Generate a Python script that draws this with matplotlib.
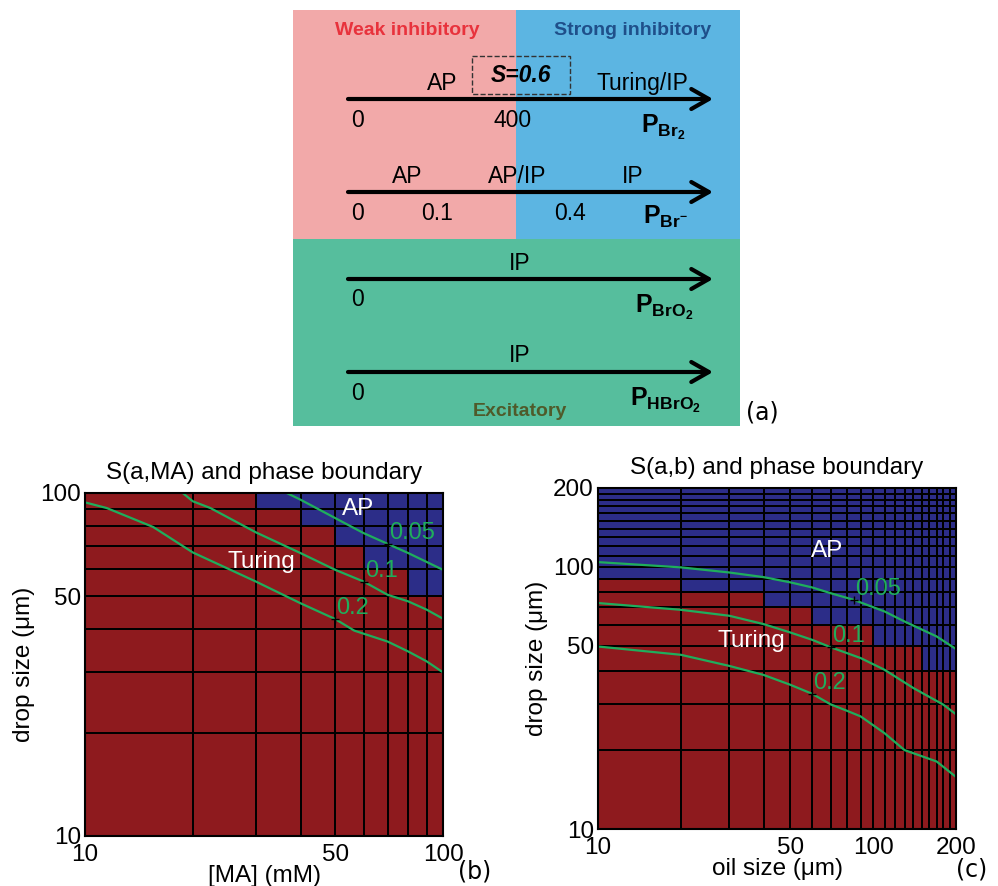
import numpy as np
import matplotlib.pyplot as plt
from matplotlib.colors import ListedColormap
from matplotlib.patches import Rectangle

plt.rcParams['font.family'] = ['Liberation Sans', 'DejaVu Sans']
plt.rcParams['mathtext.fontset'] = 'custom'
plt.rcParams['mathtext.rm'] = 'Liberation Sans'
plt.rcParams['mathtext.bf'] = 'Liberation Sans:bold'
plt.rcParams['mathtext.it'] = 'Liberation Sans:italic'

# ---- panel (a) schematic labels
a_names = [r'$\mathbf{P}_{\mathbf{Br}_{\mathbf{2}}}$', r'$\mathbf{P}_{\mathbf{Br}^{\mathbf{-}}}$',
           r'$\mathbf{P}_{\mathbf{BrO}_{\mathbf{2}}}$', r'$\mathbf{P}_{\mathbf{HBrO}_{\mathbf{2}}}$']
a_phases = [['AP', 'Turing/IP'], ['AP', 'AP/IP', 'IP'], ['IP'], ['IP']]
a_ticks = [['0', '400'], ['0', '0.1', '0.4'], ['0'], ['0']]

# ---- panel (b): S(a, MA)
ma_b = np.arange(10, 101, 10)
drop_b = np.arange(10, 101, 10)
# lowest [MA] where the cell turns AP, keyed by the cell's lower drop size
ap_from_b = {50: 80, 60: 60, 70: 50, 80: 40, 90: 30}

lvl = ['0.05', '0.1', '0.2']
b_x005 = [36.6, 40, 50, 60, 70, 80, 100]
b_y005 = [100, 95.6, 84.5, 76.4, 71.1, 66.8, 59.7]
b_x01 = [18.75, 20, 22.4, 30, 40, 50, 60, 70, 80, 90, 100]
b_y01 = [100, 94.6, 90.4, 76.8, 66.8, 59.7, 55.2, 50.5, 48.3, 45.7, 43.0]
b_x02 = [10, 11.5, 15.5, 20, 30, 40, 50, 56.5, 70, 80, 90, 100]
b_y02 = [93.9, 90.4, 79.6, 67.1, 55.2, 47.7, 42.9, 39.7, 36.9, 34.5, 32.3, 30.0]
b_lab_x = [70, 60, 50]
b_lab_y = [71.1, 55.2, 42.9]

# ---- panel (c): S(a, b)
oil_c = np.arange(10, 201, 10)
drop_c = np.arange(10, 201, 10)
# rows above 80 um are AP everywhere
ap_from_c = {40: 150, 50: 100, 60: 60, 70: 40, 80: 20}

c_x005 = [10, 20, 30, 40, 50, 60, 70, 84.9, 110, 130, 170, 200]
c_y005 = [104.3, 99.6, 95.2, 91.4, 87.3, 83.5, 79.4, 74.9, 67.6, 61.9, 54.3, 48.6]
c_x01 = [10, 20, 30, 40, 50, 60, 70, 90, 110, 140, 180, 200]
c_y01 = [72.8, 68.6, 65.1, 60.5, 56.2, 52.7, 49.4, 44.9, 40.5, 34.5, 29.8, 27.4]
c_x02 = [10, 20, 30, 40, 50, 60, 70, 80, 90, 110, 130, 170, 200]
c_y02 = [49.7, 46.2, 41.9, 38.7, 35.5, 32.8, 29.9, 28.3, 26.9, 23.2, 20.0, 18.1, 15.8]
c_lab_x = [84.9, 70, 60]
c_lab_y = [74.9, 49.4, 32.8]

red = '#8e1a1e'
navy = '#2c2d88'
green = '#1fae5c'
fs = 17.5

fig = plt.figure(figsize=(9.98, 8.86), dpi=100)

# ---------------- (a) drawn in pixel coordinates
ax = fig.add_axes([0, 0, 1, 1])
ax.set_xlim(0, 998)
ax.set_ylim(886, 0)
ax.axis('off')
ax.add_patch(Rectangle((293, 10), 223, 229, color='#f2a9a9', lw=0))
ax.add_patch(Rectangle((516, 10), 224, 229, color='#5cb5e2', lw=0))
ax.add_patch(Rectangle((293, 239), 447, 187, color='#56be9d', lw=0))
ax.text(407, 30, 'Weak inhibitory', color='#e8323c', fontsize=14, weight='bold', ha='center', va='center')
ax.text(633, 30, 'Strong inhibitory', color='#1f4f8a', fontsize=14, weight='bold', ha='center', va='center')
ax.text(520, 411, 'Excitatory', color='#4f5a2a', fontsize=14, weight='bold', ha='center', va='center')
ax.add_patch(Rectangle((472, 56), 98, 38, fill=False, ls='--', lw=1, ec='#333333'))
ax.text(521, 75, 'S=0.6', fontsize=16.5, weight='bold', style='italic', ha='center', va='center')

arrow_y = [99, 192, 279, 372]
phase_x = [[442, 642], [407, 517, 633], [520], [520]]
tick_x = [[358, 513], [358, 437, 570], [358], [358]]
name_pos = [(641, 133), (643, 224), (635, 313), (630, 406)]
for k in range(4):
    y = arrow_y[k]
    ax.annotate('', xy=(713, y), xytext=(348, y),
                arrowprops=dict(arrowstyle='->,head_length=0.7,head_width=0.4', lw=3,
                                color='k', mutation_scale=18, shrinkA=0, shrinkB=0))
    for lab, px in zip(a_phases[k], phase_x[k]):
        ax.text(px, y - 16, lab, fontsize=16.5, ha='center', va='center')
    for lab, px in zip(a_ticks[k], tick_x[k]):
        ax.text(px, y + 21, lab, fontsize=16.5, ha='center', va='center')
    ax.text(name_pos[k][0], name_pos[k][1], a_names[k], fontsize=18, ha='left', va='baseline')
ax.text(762, 412, '(a)', fontsize=17, family='DejaVu Sans', ha='center', va='center')
ax.text(475, 872, '(b)', fontsize=17, family='DejaVu Sans', ha='center', va='center')
ax.text(972, 869, '(c)', fontsize=17, family='DejaVu Sans', ha='center', va='center')


def phase_grid(xs, ys, ap_from):
    z = np.zeros((len(ys) - 1, len(xs) - 1))
    for i, yv in enumerate(ys[:-1]):
        for j, xv in enumerate(xs[:-1]):
            if yv in ap_from:
                z[i, j] = 1 if xv >= ap_from[yv] else 0
            elif yv > max(ap_from):
                z[i, j] = 1
    return z


def panel(rect, xs, ys, z, lines, lab_x, lab_y, ap_xy, tur_xy, title, xlabel, ticks):
    a = fig.add_axes(rect)
    a.pcolormesh(xs, ys, z, cmap=ListedColormap([red, navy]), vmin=0, vmax=1,
                 edgecolors='k', linewidth=1.2)
    for lx, ly in lines:
        a.plot(lx, ly, color=green, lw=1.6)
    for lv, x, y in zip(lvl, lab_x, lab_y):
        a.plot(x, y, '+', color='k', ms=6, mew=1)
        a.annotate(lv, (x, y), xytext=(1, 0), textcoords='offset points',
                   color=green, fontsize=17, ha='left', va='bottom')
    a.text(ap_xy[0], ap_xy[1], 'AP', color='white', fontsize=fs, ha='center', va='center')
    a.text(tur_xy[0], tur_xy[1], 'Turing', color='white', fontsize=fs, ha='center', va='center')
    a.set_xscale('log')
    a.set_yscale('log')
    a.set_xlim(xs[0], xs[-1])
    a.set_ylim(ys[0], ys[-1])
    a.set_xticks(ticks[0])
    a.set_xticklabels([str(t) for t in ticks[0]])
    a.set_yticks(ticks[1])
    a.set_yticklabels([str(t) for t in ticks[1]])
    a.minorticks_off()
    a.tick_params(length=0, labelsize=fs)
    a.tick_params(axis='x', pad=6)
    a.tick_params(axis='y', pad=3)
    for s in a.spines.values():
        s.set_linewidth(1.5)
    a.set_title(title, fontsize=fs, pad=10)
    a.set_xlabel(xlabel, fontsize=fs, labelpad=-1)
    a.set_ylabel('drop size (μm)', fontsize=fs, labelpad=4)
    return a


zb = phase_grid(ma_b, drop_b, ap_from_b)
panel([85 / 998, 1 - 836 / 886, 358 / 998, 343 / 886], ma_b, drop_b, zb,
      [(b_x005, b_y005), (b_x01, b_y01), (b_x02, b_y02)], b_lab_x, b_lab_y,
      (58, 90), (31, 63), 'S(a,MA) and phase boundary', '[MA] (mM)',
      ([10, 50, 100], [10, 50, 100]))

zc = phase_grid(oil_c, drop_c, ap_from_c)
panel([598 / 998, 1 - 829 / 886, 358 / 998, 341 / 886], oil_c, drop_c, zc,
      [(c_x005, c_y005), (c_x01, c_y01), (c_x02, c_y02)], c_lab_x, c_lab_y,
      (68, 115), (36, 52), 'S(a,b) and phase boundary', 'oil size (μm)',
      ([10, 50, 100, 200], [10, 50, 100, 200]))

fig.savefig('out.png', dpi=100)
